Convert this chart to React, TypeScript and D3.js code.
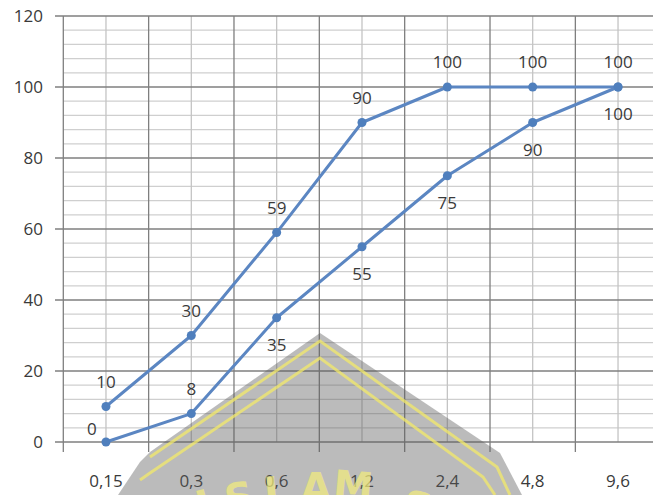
import React from "react";
import * as d3 from "d3";

// Sieve sizes (mm) along the x axis
const categories = ["0,15", "0,3", "0,6", "1,2", "2,4", "4,8", "9,6"];
// Upper grading limit (% passing)
const upperLimit = [10, 30, 59, 90, 100, 100, 100];
// Lower grading limit (% passing)
const lowerLimit = [0, 8, 35, 55, 75, 90, 100];
// Y axis tick labels
const yTicks = [0, 20, 40, 60, 80, 100, 120];

// Where each data label sits relative to its point
const upperLabelSide = ["above", "above", "above", "above", "above", "above", "above"];
const lowerLabelSide = ["aboveLeft", "above", "below", "below", "below", "below", "below"];

const W = 653;
const H = 495;
const FONT = "'Open Sans', 'Liberation Sans', sans-serif";
const LINE = "#5b86c2";
const MARK = "#4f7fbd";
const TEXT = "#3a3a3a";

export default function App() {
  const x = d3.scaleBand<string>().domain(categories).range([63.3, 660.7]).padding(0);
  const y = d3.scaleLinear().domain([0, 120]).range([442, 16]);
  const cx = (c: string) => (x(c) as number) + x.bandwidth() / 2;

  const minorTicks = d3.range(0, 121, 4).filter((v) => v % 20 !== 0);
  const line = d3
    .line<number>()
    .x((_, i) => cx(categories[i]))
    .y((v) => y(v));

  const labelPos = (side: string, px: number, py: number) => {
    if (side === "below") return [px, py + 27];
    if (side === "aboveLeft") return [px - 14, py - 13];
    return [px, py - 25];
  };

  const series = [
    { values: upperLimit, sides: upperLabelSide },
    { values: lowerLimit, sides: lowerLabelSide },
  ];

  // Watermark letters laid along an arc at the bottom
  const wmLetters = [
    { ch: "I", x: 208, y: 518, r: -16 },
    { ch: "S", x: 242, y: 511, r: -11 },
    { ch: "L", x: 278, y: 505, r: -5 },
    { ch: "A", x: 316, y: 502, r: 0 },
    { ch: "M", x: 352, y: 500, r: 5 },
    { ch: "S", x: 414, y: 520, r: 13 },
  ];

  return (
    <svg
      width={W}
      height={H}
      style={{ position: "absolute", left: 0, top: 0, display: "block", background: "#fff" }}
    >
      {/* minor horizontal grid */}
      {minorTicks.map((v) => (
        <line key={"mh" + v} x1={63} x2={W} y1={y(v)} y2={y(v)} stroke="#cfcfcf" strokeWidth={1.3} />
      ))}
      {/* vertical grid: light at category centres, dark at boundaries */}
      {categories.map((c) => (
        <line key={"vc" + c} x1={cx(c)} x2={cx(c)} y1={y(120)} y2={y(0)} stroke="#c4c4c4" strokeWidth={1.3} />
      ))}
      {categories.map((c) => (
        <line
          key={"vb" + c}
          x1={x(c) as number}
          x2={x(c) as number}
          y1={y(120)}
          y2={y(0) + 10}
          stroke="#7f7f7f"
          strokeWidth={1.3}
        />
      ))}
      {/* major horizontal grid with ticks */}
      {yTicks.map((v) => (
        <line key={"Mh" + v} x1={55} x2={W} y1={y(v)} y2={y(v)} stroke="#7f7f7f" strokeWidth={1.3} />
      ))}
      {/* y tick labels */}
      {yTicks.map((v) => (
        <text
          key={"yl" + v}
          x={43}
          y={y(v)}
          dy="0.36em"
          textAnchor="end"
          fontFamily={FONT}
          fontSize={17}
          fill={TEXT}
        >
          {v}
        </text>
      ))}
      {/* x tick labels */}
      {categories.map((c) => (
        <text
          key={"xl" + c}
          x={cx(c)}
          y={481}
          dy="0.36em"
          textAnchor="middle"
          fontFamily={FONT}
          fontSize={17}
          fill={TEXT}
        >
          {c}
        </text>
      ))}
      {/* series */}
      {series.map((s, si) => (
        <g key={"s" + si}>
          <path d={line(s.values) || ""} fill="none" stroke={LINE} strokeWidth={3} strokeLinejoin="round" />
          {s.values.map((v, i) => (
            <circle key={"p" + i} cx={cx(categories[i])} cy={y(v)} r={4.5} fill={MARK} />
          ))}
          {s.values.map((v, i) => {
            const [lx, ly] = labelPos(s.sides[i], cx(categories[i]), y(v));
            return (
              <text
                key={"l" + i}
                x={lx}
                y={ly}
                dy="0.36em"
                textAnchor="middle"
                fontFamily={FONT}
                fontSize={17}
                fill={TEXT}
              >
                {v}
              </text>
            );
          })}
        </g>
      ))}
      {/* watermark emblem */}
      <g pointerEvents="none">
        <path
          d="M320,333 L500,453 L522,495 L118,495 L140,462 L150,452 Z"
          fill="#5e5e5e"
          opacity={0.42}
        />
        <path d="M150,457 L320,341 L497,467 L510,495" fill="none" stroke="#f3ea6a" strokeWidth={3} opacity={0.75} />
        <path d="M140,480 L150,473 L320,358 L483,477 L495,495" fill="none" stroke="#f3ea6a" strokeWidth={3} opacity={0.75} />
        {wmLetters.map((l, i) => (
          <text
            key={"wm" + i}
            x={l.x}
            y={l.y}
            textAnchor="middle"
            fontFamily="'DejaVu Sans', sans-serif"
            fontWeight="bold"
            fontSize={40}
            fill="#f4ee7c"
            opacity={0.7}
            transform={`rotate(${l.r},${l.x},${l.y})`}
          >
            {l.ch}
          </text>
        ))}
      </g>
    </svg>
  );
}
